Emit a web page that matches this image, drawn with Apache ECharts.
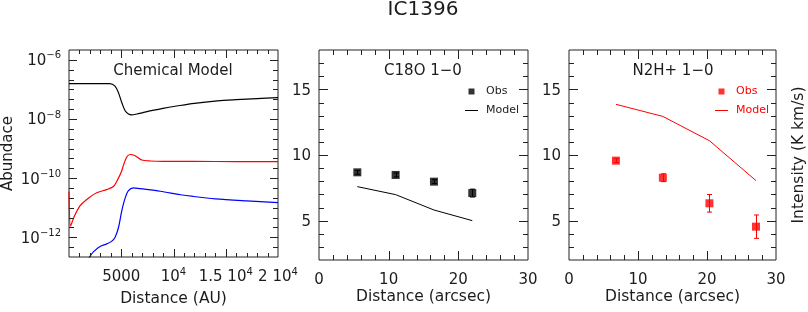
<!DOCTYPE html>
<html><head><meta charset="utf-8">
<script src="https://cdn.jsdelivr.net/npm/echarts@6/dist/echarts.min.js"></script>
<style>html,body{margin:0;padding:0;background:#fff}#c{width:808px;height:312px}</style>
</head><body><div id="c"></div>
<script>
// ---------------- data ----------------
const chartTitle = 'IC1396';
const panelTitles = ['Chemical Model', 'C18O 1\u22120', 'N2H+ 1\u22120'];

// Left panel: chemical model abundance vs distance (AU)
const blackDistAU = [0, 1000, 2000, 3000, 3900, 4400, 4730, 5050, 5370, 5690, 6010, 6500, 7000, 8000, 9000, 10300, 12000, 14200, 16000, 18000, 20000];
const blackAbund  = [1.58e-7, 1.58e-7, 1.58e-7, 1.58e-7, 1.58e-7, 1.29e-7, 7.8e-8, 3.6e-8, 1.9e-8, 1.48e-8, 1.38e-8, 1.48e-8, 1.62e-8, 1.95e-8, 2.3e-8, 2.75e-8, 3.4e-8, 4.1e-8, 4.5e-8, 4.9e-8, 5.25e-8];
const redDistAU   = [0, 150, 500, 1050, 1700, 2650, 3600, 4250, 4730, 5050, 5210, 5530, 5850, 6330, 6970, 7770, 9000, 12000, 16000, 20000];
const redAbund    = [3.5e-11, 2.4e-12, 5.0e-12, 1.15e-11, 1.9e-11, 3.2e-11, 4.1e-11, 5.2e-11, 1.0e-10, 1.78e-10, 2.75e-10, 5.2e-10, 6.3e-10, 5.75e-10, 4.1e-10, 3.8e-10, 3.7e-10, 3.7e-10, 3.6e-10, 3.6e-10];
const blueDistAU  = [1700, 1950, 2330, 2970, 3620, 4100, 4410, 4730, 5050, 5370, 5690, 6170, 6810, 8730, 10650, 11900, 14000, 17000, 20000];
const blueAbund   = [1.6e-13, 2.1e-13, 3.2e-13, 4.9e-13, 6.0e-13, 7.4e-13, 1.0e-12, 2.1e-12, 7.8e-12, 2.1e-11, 3.8e-11, 4.7e-11, 4.4e-11, 3.6e-11, 2.75e-11, 2.4e-11, 2.0e-11, 1.7e-11, 1.48e-11];

// Middle panel: C18O 1-0
const c18oDist     = [5.5, 11.0, 16.5, 22.0];
const c18oObs      = [8.68, 8.48, 7.97, 7.10];
const c18oObsErr   = [0.15, 0.15, 0.15, 0.30];
const c18oModel    = [7.59, 6.98, 5.81, 5.00];

// Right panel: N2H+ 1-0
const n2hDist      = [6.8, 13.6, 20.35, 27.1];
const n2hObs       = [9.57, 8.27, 6.32, 4.54];
const n2hObsErr    = [0.15, 0.30, 0.67, 0.89];
const n2hModel     = [13.86, 12.94, 11.09, 8.05];

// Tick values and labels
const auTickValues   = [5000, 10000, 15000, 20000];
const auTickLabels   = ['5000', '10^4', '1.5 10^4', '2 10^4'];
const abTickValues   = [1e-12, 1e-10, 1e-8, 1e-6];
const abTickLabels   = ['10^\u221212', '10^\u221210', '10^\u22128', '10^\u22126'];
const arcTickValues  = [0, 10, 20, 30];
const arcTickLabels  = ['0', '10', '20', '30'];
const intTickValues  = [5, 10, 15];
const intTickLabels  = ['5', '10', '15'];

// ---------------- helpers ----------------
const FONT = 'DejaVu Sans';
const INK = '#1c1c1c';
const range = (a, b, s) => { const r = []; for (let v = a; v <= b + 1e-9; v += s) r.push(+v.toFixed(6)); return r; };

function toRich(lbl) {
  const i = lbl.indexOf('^');
  if (i < 0) return '{n|' + lbl + '}';
  return '{n|' + lbl.slice(0, i) + '}{s|' + lbl.slice(i + 1) + '}';
}
const rich = {
  n: { fontFamily: FONT, fontSize: 15, color: INK, verticalAlign: 'bottom', lineHeight: 18 },
  s: { fontFamily: FONT, fontSize: 10, color: INK, verticalAlign: 'top', lineHeight: 18, padding: [0, 0, 10, 0] }
};
function labelFormatter(values, labels) {
  return function (v) {
    let k = -1;
    for (let i = 0; i < values.length; i++) if (Math.abs(values[i] - v) <= Math.abs(values[i]) * 1e-6) k = i;
    return k < 0 ? '' : toRich(labels[k]);
  };
}

const grids = [
  { left: 69, top: 50, width: 209, height: 210 },
  { left: 319, top: 50, width: 209, height: 210 },
  { left: 569, top: 50, width: 209, height: 210 }
].map(g => Object.assign(g, { show: true, borderColor: '#222', borderWidth: 1, backgroundColor: 'transparent' }));

const nameStyle = (size) => ({ fontFamily: FONT, fontSize: size, color: INK });
function mainAxis(gi, c) {
  const a = {
    type: c.type, gridIndex: gi, min: c.min, max: c.max, position: c.pos,
    splitLine: { show: false }, axisLine: { show: false, onZero: false }, axisTick: { show: false },
    axisLabel: { show: true, customValues: c.labelValues, formatter: labelFormatter(c.labelValues, c.labels),
                 margin: c.margin, rich: rich, fontFamily: FONT, fontSize: 15, color: INK }
  };
  if (c.name) Object.assign(a, { name: c.name, nameLocation: 'middle', nameGap: c.nameGap,
      nameRotate: c.pos === 'left' ? 90 : 0, nameTextStyle: nameStyle(c.nameSize) });
  if (c.pos === 'bottom') a.nameMoveOverlap = false;
  return a;
}

const abMin = Math.pow(10, -38 / 3), abMax = Math.pow(10, -17 / 3);

const xAxes = [
  mainAxis(0, { type: 'value', min: 0, max: 20000, pos: 'bottom', labelValues: auTickValues, labels: auTickLabels, margin: 10, name: 'Distance (AU)', nameGap: 34, nameSize: 15.5 }),
  mainAxis(1, { type: 'value', min: 0, max: 30, pos: 'bottom', labelValues: arcTickValues, labels: arcTickLabels, margin: 10, name: 'Distance (arcsec)', nameGap: 29, nameSize: 15.5 }),
  mainAxis(2, { type: 'value', min: 0, max: 30, pos: 'bottom', labelValues: arcTickValues, labels: arcTickLabels, margin: 10, name: 'Distance (arcsec)', nameGap: 29, nameSize: 15.5 })
];
const yAxes = [
  mainAxis(0, { type: 'log', min: abMin, max: abMax, pos: 'left', labelValues: abTickValues, labels: abTickLabels, margin: 8, name: 'Abundace', nameGap: 53, nameSize: 15 }),
  mainAxis(1, { type: 'value', min: 2, max: 18, pos: 'left', labelValues: intTickValues, labels: intTickLabels, margin: 8 }),
  mainAxis(2, { type: 'value', min: 2, max: 18, pos: 'left', labelValues: intTickValues, labels: intTickLabels, margin: 8 }),
  { type: 'value', gridIndex: 2, min: 2, max: 18, position: 'right', splitLine: { show: false }, axisLine: { show: false },
    axisTick: { show: false }, axisLabel: { show: false },
    name: 'Intensity (K km/s)', nameLocation: 'middle', nameGap: 15, nameRotate: 90, nameTextStyle: nameStyle(15.5) }
];

// Tick positions (data values) for the four sides of each box
const abMinorTicks = []; for (let k = -37; k <= -18; k++) if (k % 6 !== 0) abMinorTicks.push(Math.pow(10, k / 3));
const tickSpecs = [
  { ax: 0, xr: [0, 20000], yr: [abMin, abMax], xMinor: range(1000, 19000, 1000).filter(v => v % 5000 !== 0), xMajor: [5000, 10000, 15000],
    yMinor: abMinorTicks, yMajor: abTickValues, xMinLen: 4, xMajLen: 8, yMinLen: 5, yMajLen: 8 },
  { ax: 1, xr: [0, 30], yr: [2, 18], xMinor: range(2, 28, 2).filter(v => v % 10 !== 0), xMajor: [10, 20],
    yMinor: range(3, 17, 1).filter(v => v % 5 !== 0), yMajor: [5, 10, 15], xMinLen: 5, xMajLen: 9, yMinLen: 5, yMajLen: 9 },
  { ax: 2, xr: [0, 30], yr: [2, 18], xMinor: range(2, 28, 2).filter(v => v % 10 !== 0), xMajor: [10, 20],
    yMinor: range(3, 17, 1).filter(v => v % 5 !== 0), yMajor: [5, 10, 15], xMinLen: 5, xMajLen: 9, yMinLen: 5, yMajLen: 9 }
];

const zip = (a, b) => a.map((v, i) => [v, b[i]]);
const zip3 = (a, b, c) => a.map((v, i) => [v, b[i], c[i]]);

function errorBars(ai, color, dist, val, err) {
  return {
    type: 'custom', xAxisIndex: ai, yAxisIndex: ai, z: 2, silent: true,
    data: zip3(dist, val, err),
    renderItem: function (params, api) {
      const x = api.value(0), y = api.value(1), e = api.value(2);
      const top = api.coord([x, y + e]), bot = api.coord([x, y - e]);
      const cx = Math.round(top[0]) + 0.5;
      return { type: 'group', children: [
        { type: 'line', shape: { x1: cx, y1: top[1], x2: cx, y2: bot[1] }, style: { stroke: color, lineWidth: 1 } },
        { type: 'line', shape: { x1: cx - 2.5, y1: top[1], x2: cx + 2.5, y2: top[1] }, style: { stroke: color, lineWidth: 1 } },
        { type: 'line', shape: { x1: cx - 2.5, y1: bot[1], x2: cx + 2.5, y2: bot[1] }, style: { stroke: color, lineWidth: 1 } }
      ]};
    }
  };
}

const lineCommon = { type: 'line', symbol: 'none', showSymbol: false, smooth: 0.3, clip: true, animation: false };
const series = [
  Object.assign({}, lineCommon, { name: 'black', xAxisIndex: 0, yAxisIndex: 0, data: zip(blackDistAU, blackAbund), lineStyle: { color: '#000', width: 1.2 }, itemStyle: { color: '#000' } }),
  Object.assign({}, lineCommon, { name: 'red', xAxisIndex: 0, yAxisIndex: 0, data: zip(redDistAU, redAbund), smooth: 0.25, lineStyle: { color: '#ff0000', width: 1.2 }, itemStyle: { color: '#ff0000' } }),
  Object.assign({}, lineCommon, { name: 'blue', xAxisIndex: 0, yAxisIndex: 0, data: zip(blueDistAU, blueAbund), lineStyle: { color: '#0000ff', width: 1.2 }, itemStyle: { color: '#0000ff' } }),

  Object.assign({}, lineCommon, { name: 'C18O Model', smooth: false, xAxisIndex: 1, yAxisIndex: 1, data: zip(c18oDist, c18oModel), lineStyle: { color: '#000', width: 1 }, itemStyle: { color: '#000' } }),
  errorBars(1, '#000', c18oDist, c18oObs, c18oObsErr),
  { type: 'scatter', name: 'C18O Obs', xAxisIndex: 1, yAxisIndex: 1, symbol: 'rect', symbolSize: 8, z: 3, data: zip(c18oDist, c18oObs), itemStyle: { color: '#000' }, animation: false },

  Object.assign({}, lineCommon, { name: 'N2H Model', smooth: false, xAxisIndex: 2, yAxisIndex: 2, data: zip(n2hDist, n2hModel), lineStyle: { color: '#ff0000', width: 1 }, itemStyle: { color: '#ff0000' } }),
  errorBars(2, '#ff0000', n2hDist, n2hObs, n2hObsErr),
  { type: 'scatter', name: 'N2H Obs', xAxisIndex: 2, yAxisIndex: 2, symbol: 'rect', symbolSize: 8, z: 3, data: zip(n2hDist, n2hObs), itemStyle: { color: '#ff0000' }, animation: false }
];

const titleStyle = (size) => ({ fontFamily: FONT, fontSize: size, fontWeight: 'normal', color: INK });
const squareIcon = 'path://M0,0H10V10H0Z';
const lineIcon = 'path://M0,0H13V1H0Z';
const legendCommon = {
  orient: 'vertical', itemWidth: 13, itemHeight: 6, itemGap: 8, padding: 0, selectedMode: false,
  formatter: n => n.split(' ')[1]
};

const option = {
  animation: false,
  backgroundColor: '#fff',
  title: [
    { text: chartTitle, left: 423, top: 0, textAlign: 'center', padding: 0, textStyle: titleStyle(20) },
    { text: panelTitles[0], left: 173, top: 64, textAlign: 'center', padding: 0, textStyle: titleStyle(15) },
    { text: panelTitles[1], left: 423, top: 64, textAlign: 'center', padding: 0, textStyle: titleStyle(15) },
    { text: panelTitles[2], left: 673, top: 64, textAlign: 'center', padding: 0, textStyle: titleStyle(15) }
  ],
  legend: [
    Object.assign({}, legendCommon, { left: 465, top: 86,
      data: [{ name: 'C18O Obs', icon: squareIcon }, { name: 'C18O Model', icon: lineIcon }],
      textStyle: { fontFamily: FONT, fontSize: 11, color: INK, padding: [0, 0, 0, 3] } }),
    Object.assign({}, legendCommon, { left: 715, top: 86,
      data: [{ name: 'N2H Obs', icon: squareIcon }, { name: 'N2H Model', icon: lineIcon }],
      textStyle: { fontFamily: FONT, fontSize: 11, color: '#ff0000', padding: [0, 0, 0, 3] } })
  ],
  grid: grids,
  xAxis: xAxes,
  yAxis: yAxes,
  series: series
};

const chart = echarts.init(document.getElementById('c'), null, { renderer: 'canvas' });
chart.setOption(option);

// Box tick marks: pixel positions obtained from the chart's own axes (convertToPixel)
const tickEls = [];
const tickLine = (x1, y1, x2, y2) => tickEls.push({ type: 'line', z: 100, silent: true,
  shape: { x1: x1, y1: y1, x2: x2, y2: y2 }, style: { stroke: '#222', lineWidth: 1 } });
tickSpecs.forEach(s => {
  const finder = { xAxisIndex: s.ax, yAxisIndex: s.ax };
  const P = (x, y) => chart.convertToPixel(finder, [x, y]);
  const xt = (v, len) => {
    const b = P(v, s.yr[0]), t = P(v, s.yr[1]);
    if (!b || !t) return;
    const x = Math.round(b[0]) + 0.5;
    tickLine(x, b[1], x, b[1] - len); tickLine(x, t[1], x, t[1] + len);
  };
  const yt = (v, len) => {
    const l = P(s.xr[0], v), r = P(s.xr[1], v);
    if (!l || !r) return;
    const y = Math.round(l[1]) + 0.5;
    tickLine(l[0], y, l[0] + len, y); tickLine(r[0], y, r[0] - len, y);
  };
  s.xMinor.forEach(v => xt(v, s.xMinLen));
  s.xMajor.forEach(v => xt(v, s.xMajLen));
  s.yMinor.forEach(v => yt(v, s.yMinLen));
  s.yMajor.forEach(v => yt(v, s.yMajLen));
});
chart.setOption({ graphic: { elements: tickEls } });
</script>
</body></html>
